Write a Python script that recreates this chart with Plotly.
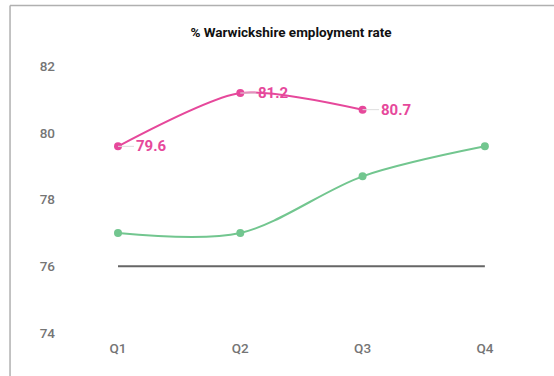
import plotly.graph_objects as go

quarters = ["Q1", "Q2", "Q3", "Q4"]
warwickshire = [79.6, 81.2, 80.7]
comparison = [77.0, 77.0, 78.7, 79.6]
baseline = [76, 76, 76, 76]
y_ticks = [74, 76, 78, 80, 82]

PINK = "#e6489b"
GREEN = "#72c68f"
GREY_TEXT = "#757575"

fig = go.Figure()

fig.add_trace(go.Scatter(
    x=quarters, y=baseline, mode="lines",
    line=dict(color="#666666", width=2),
    hoverinfo="skip", showlegend=False,
))
fig.add_trace(go.Scatter(
    x=quarters, y=comparison, mode="lines+markers",
    line=dict(color=GREEN, width=2, shape="spline", smoothing=0.9),
    marker=dict(color=GREEN, size=8),
    showlegend=False,
))
fig.add_trace(go.Scatter(
    x=quarters[:len(warwickshire)], y=warwickshire, mode="lines+markers",
    line=dict(color=PINK, width=2, shape="spline", smoothing=0.7),
    marker=dict(color=PINK, size=8),
    showlegend=False,
))

# value labels with faint leader lines
for q, v in zip(quarters, warwickshire):
    fig.add_annotation(
        x=q, y=v, text=f"{v:.1f}", showarrow=True,
        ax=33, ay=0, arrowhead=0, arrowwidth=1, arrowcolor="#dddddd",
        font=dict(family="Roboto", size=15, color=PINK, weight="bold"),
        xanchor="center", yanchor="middle",
    )

# card frame edges
fig.add_shape(type="line", xref="paper", yref="paper",
              x0=-0.0938, x1=1.1, y0=1.0904, y1=1.0904,
              line=dict(color="#b0b0b0", width=1.5))
fig.add_shape(type="line", xref="paper", yref="paper",
              x0=-0.0938, x1=-0.0938, y0=-0.2, y1=1.0904,
              line=dict(color="#b0b0b0", width=1.5))

fig.update_layout(
    width=554, height=376,
    margin=dict(l=56, r=8, t=33, b=38),
    paper_bgcolor="white", plot_bgcolor="white",
    title=dict(
        text="% Warwickshire employment rate",
        x=291 / 554, xref="container", xanchor="center",
        y=1 - 32 / 376, yref="container", yanchor="middle",
        font=dict(family="Roboto", size=13.5, color="#111111", weight="bold"),
    ),
    xaxis=dict(
        type="category", range=[-0.507, 3.5],
        showgrid=False, zeroline=False, showline=False, ticks="",
        tickfont=dict(family="Roboto", size=13.5, color=GREY_TEXT, weight=500),
    ),
    yaxis=dict(
        range=[73.85, 83], tickvals=y_ticks,
        showgrid=False, zeroline=False, showline=False, ticks="",
        tickfont=dict(family="Roboto", size=13.5, color=GREY_TEXT, weight=500),
    ),
)

fig.write_html("out.html")
